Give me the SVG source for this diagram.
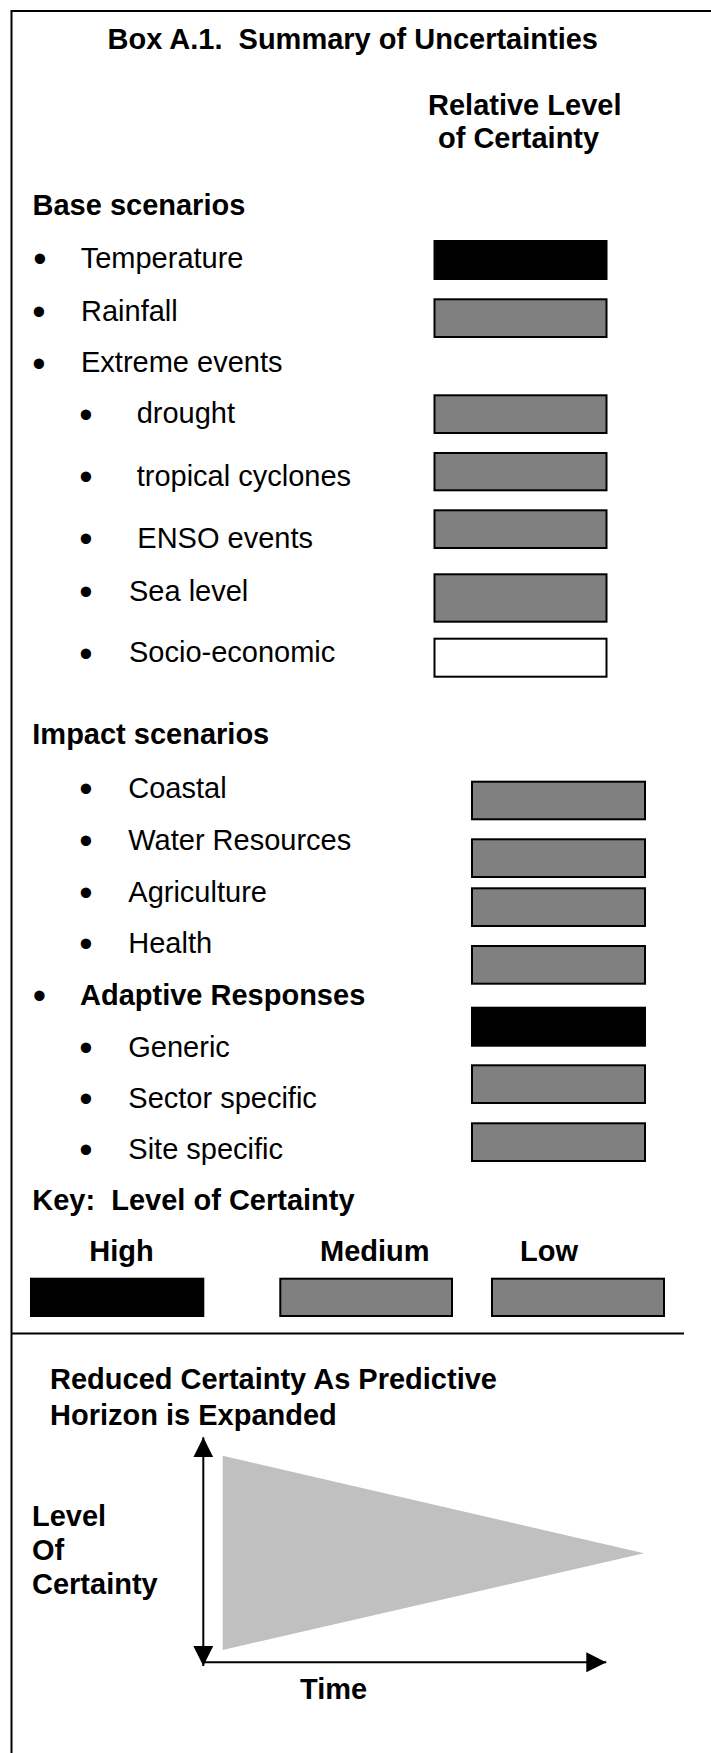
<svg xmlns="http://www.w3.org/2000/svg" width="711" height="1753" viewBox="0 0 711 1753">
  <style>
    text { font-family: "Liberation Sans", Arial, sans-serif; font-size: 29px; fill: #000; white-space: pre; }
    .b { font-weight: bold; }
    .bul { font-size: 38px; text-anchor: middle; }
    .frame { stroke: #000; stroke-width: 2; fill: none; }
    .gray { fill: #808080; stroke: #000; stroke-width: 2; }
    .black { fill: #000; stroke: none; }
    .white { fill: #fff; stroke: #000; stroke-width: 2; }
    .axis { stroke: #000; stroke-width: 2; fill: none; }
  </style>
  <defs>
    <marker id="head" viewBox="0 0 20 20" refX="20" refY="10" markerWidth="20" markerHeight="20" markerUnits="userSpaceOnUse" orient="auto-start-reverse">
      <path d="M0,0 L20,10 L0,20 z" fill="#000"/>
    </marker>
  </defs>

  <rect width="711" height="1753" fill="#fff"/>

  <!-- box frame and section divider -->
  <g id="frame">
    <line class="frame" x1="11" y1="11" x2="711" y2="11"/>
    <line class="frame" x1="11.5" y1="10" x2="11.5" y2="1753"/>
    <line class="frame" x1="11" y1="1333.5" x2="684" y2="1333.5"/>
  </g>

  <g id="title">
    <text class="b" x="107.5" y="49">Box A.1.  Summary of Uncertainties</text>
  </g>

  <g id="column-heading">
    <text class="b" x="428" y="115">Relative Level</text>
    <text class="b" x="438" y="148">of Certainty</text>
  </g>

  <!-- base scenarios -->
  <g id="base-scenarios">
    <text class="b" x="32.5" y="215">Base scenarios</text>
  </g>
  <g id="temperature">
    <text class="bul" x="40" y="272">•</text>
    <text x="80.7" y="268">Temperature</text>
    <rect class="black" x="433.5" y="240" width="174" height="40"/>
  </g>
  <g id="rainfall">
    <text class="bul" x="39" y="325">•</text>
    <text x="81" y="321">Rainfall</text>
    <rect class="gray" x="434.5" y="299.3" width="172" height="37.7"/>
  </g>
  <g id="extreme-events">
    <text class="bul" x="39" y="376.5">•</text>
    <text x="81" y="372.3">Extreme events</text>
  </g>
  <g id="drought">
    <text class="bul" x="86" y="427.5">•</text>
    <text x="136.7" y="423.3">drought</text>
    <rect class="gray" x="434.5" y="395.3" width="172" height="37.7"/>
  </g>
  <g id="tropical-cyclones">
    <text class="bul" x="86" y="490">•</text>
    <text x="136.7" y="486">tropical cyclones</text>
    <rect class="gray" x="434.5" y="453" width="172" height="37.3"/>
  </g>
  <g id="enso-events">
    <text class="bul" x="86" y="552">•</text>
    <text x="137.3" y="548.3">ENSO events</text>
    <rect class="gray" x="434.5" y="510.3" width="172" height="37.7"/>
  </g>
  <g id="sea-level">
    <text class="bul" x="86" y="605">•</text>
    <text x="129" y="600.7">Sea level</text>
    <rect class="gray" x="434.5" y="574.3" width="172" height="47.4"/>
  </g>
  <g id="socio-economic">
    <text class="bul" x="86" y="666.5">•</text>
    <text x="129" y="662.3">Socio-economic</text>
    <rect class="white" x="434.5" y="638.7" width="172" height="38"/>
  </g>

  <!-- impact scenarios -->
  <g id="impact-scenarios">
    <text class="b" x="32.3" y="744.3">Impact scenarios</text>
  </g>
  <g id="coastal">
    <text class="bul" x="86" y="801.5">•</text>
    <text x="128.3" y="797.7">Coastal</text>
    <rect class="gray" x="472" y="781.7" width="173" height="37.6"/>
  </g>
  <g id="water-resources">
    <text class="bul" x="86" y="854">•</text>
    <text x="128.3" y="850">Water Resources</text>
    <rect class="gray" x="472" y="839.3" width="173" height="37.7"/>
  </g>
  <g id="agriculture">
    <text class="bul" x="86" y="905.5">•</text>
    <text x="128.3" y="901.7">Agriculture</text>
    <rect class="gray" x="472" y="888.3" width="173" height="37.7"/>
  </g>
  <g id="health">
    <text class="bul" x="86" y="957">•</text>
    <text x="128.3" y="953.3">Health</text>
    <rect class="gray" x="472" y="946" width="173" height="37.7"/>
  </g>
  <g id="adaptive-responses">
    <text class="bul" x="39.3" y="1009">•</text>
    <text class="b" x="80" y="1005">Adaptive Responses</text>
    <rect class="black" x="471" y="1006.7" width="175" height="40"/>
  </g>
  <g id="generic">
    <text class="bul" x="86" y="1060.5">•</text>
    <text x="128.3" y="1056.7">Generic</text>
    <rect class="gray" x="472" y="1065.3" width="173" height="37.7"/>
  </g>
  <g id="sector-specific">
    <text class="bul" x="86" y="1112">•</text>
    <text x="128.3" y="1108.3">Sector specific</text>
    <rect class="gray" x="472" y="1123.3" width="173" height="37.7"/>
  </g>
  <g id="site-specific">
    <text class="bul" x="86" y="1163">•</text>
    <text x="128.3" y="1159.3">Site specific</text>
  </g>

  <!-- key -->
  <g id="key">
    <text class="b" x="32.3" y="1210">Key:  Level of Certainty</text>
  </g>
  <g id="key-high">
    <text class="b" x="89.3" y="1261">High</text>
    <rect class="black" x="30" y="1277.7" width="174.3" height="39.3"/>
  </g>
  <g id="key-medium">
    <text class="b" x="320" y="1261">Medium</text>
    <rect class="gray" x="280.3" y="1278.7" width="171.7" height="37.3"/>
  </g>
  <g id="key-low">
    <text class="b" x="520" y="1261">Low</text>
    <rect class="gray" x="492" y="1278.7" width="172" height="37.3"/>
  </g>

  <!-- certainty versus time chart -->
  <g id="chart-title">
    <text class="b" x="50" y="1389">Reduced Certainty As Predictive</text>
    <text class="b" x="50" y="1425">Horizon is Expanded</text>
  </g>
  <g id="certainty-wedge">
    <polygon points="222.7,1455.7 644,1553.3 222.7,1650" fill="#c0c0c0"/>
  </g>
  <g id="y-label">
    <text class="b" x="32" y="1526">Level</text>
    <text class="b" x="32" y="1560">Of</text>
    <text class="b" x="32" y="1594">Certainty</text>
  </g>
  <g id="x-label">
    <text class="b" x="300" y="1699">Time</text>
  </g>

  <g id="connectors">
    <line class="axis" x1="203.3" y1="1437.3" x2="203.3" y2="1666" marker-start="url(#head)" marker-end="url(#head)"/>
    <line class="axis" x1="202.3" y1="1662.3" x2="606.3" y2="1662.3" marker-end="url(#head)"/>
  </g>
</svg>
